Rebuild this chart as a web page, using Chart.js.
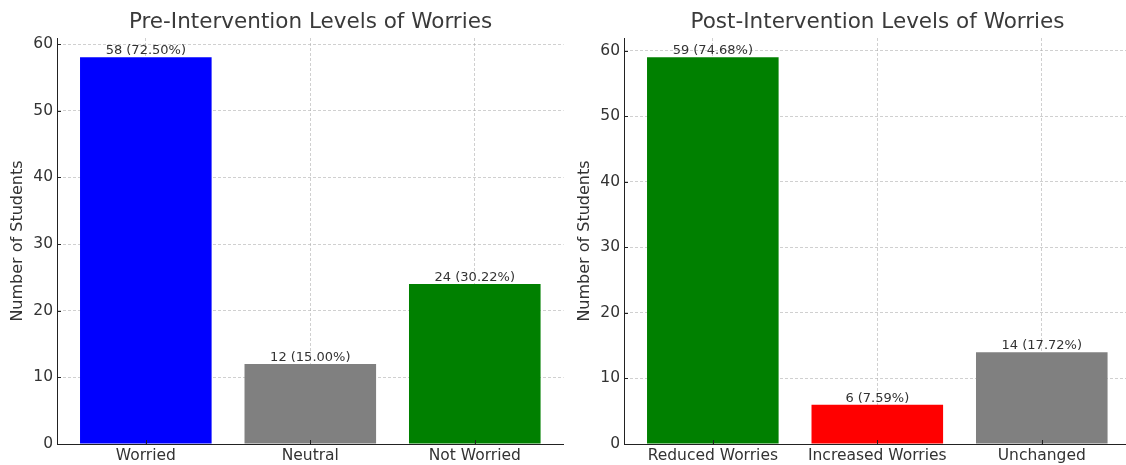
<!DOCTYPE html>
<html>
<head>
<meta charset="utf-8">
<script src="https://cdn.jsdelivr.net/npm/chart.js@4.4.1/dist/chart.umd.min.js"></script>
<style>
  html, body { margin: 0; padding: 0; background: #ffffff; overflow: hidden; width: 1126px; height: 465px; }
  .panel { position: absolute; top: 0; }
  #preWrap { left: 0; }
  #postWrap { left: 567px; }
</style>
</head>
<body>
<div class="panel" id="preWrap"><canvas id="preChart" width="621" height="465"></canvas></div>
<div class="panel" id="postWrap"><canvas id="postChart" width="621" height="465"></canvas></div>
<script>
// Survey counts before and after the intervention
const preCategories = ['Worried', 'Neutral', 'Not Worried'];
const preCounts = [58, 12, 24];
const prePercents = ['72.50', '15.00', '30.22'];
const preColors = ['#0000ff', '#808080', '#008000'];

const postCategories = ['Reduced Worries', 'Increased Worries', 'Unchanged'];
const postCounts = [59, 6, 14];
const postPercents = ['74.68', '7.59', '17.72'];
const postColors = ['#008000', '#ff0000', '#808080'];

const yTickValues = [0, 10, 20, 30, 40, 50, 60];

const FONT = "'DejaVu Sans', 'Liberation Sans', sans-serif";
const TEXT = '#333333';
const GRID = 'rgba(170,170,170,0.55)';

// "count (pct%)" written just above each bar
const barLabels = {
  id: 'barLabels',
  afterDatasetsDraw(chart, args, opts) {
    const ctx = chart.ctx;
    const meta = chart.getDatasetMeta(0);
    ctx.save();
    ctx.font = '13px ' + FONT;
    ctx.fillStyle = TEXT;
    ctx.textAlign = 'center';
    ctx.textBaseline = 'bottom';
    meta.data.forEach((bar, i) => {
      const v = chart.data.datasets[0].data[i].y;
      ctx.fillText(v + ' (' + opts.percents[i] + '%)', bar.x, bar.y);
    });
    ctx.restore();
  }
};

// short tick marks pointing into the plot
const innerTicks = {
  id: 'innerTicks',
  afterDraw(chart) {
    const ctx = chart.ctx;
    const xs = chart.scales.x, ys = chart.scales.y;
    const area = chart.chartArea;
    ctx.save();
    ctx.strokeStyle = '#222222';
    ctx.lineWidth = 1;
    ctx.beginPath();
    ys.ticks.forEach(t => {
      const py = Math.round(ys.getPixelForValue(t.value)) + 0.5;
      ctx.moveTo(area.left, py);
      ctx.lineTo(area.left + 4, py);
    });
    xs.ticks.forEach(t => {
      const px = Math.round(xs.getPixelForValue(t.value)) + 0.5;
      ctx.moveTo(px, area.bottom);
      ctx.lineTo(px, area.bottom - 4);
    });
    ctx.stroke();
    ctx.restore();
  }
};

function makeChart(canvasId, title, categories, counts, percents, colors) {
  const yMax = Math.max(...counts) * 1.05;
  const nCat = categories.length;
  const pad = 0.4 + 0.05 * (nCat - 1 + 0.8);
  return new Chart(document.getElementById(canvasId), {
    type: 'bar',
    data: {
      datasets: [{
        data: categories.map((c, i) => ({ x: i, y: counts[i] })),
        backgroundColor: colors,
        borderWidth: 0,
        categoryPercentage: 1.0,
        barPercentage: 0.8
      }]
    },
    options: {
      responsive: false,
      animation: false,
      devicePixelRatio: 1,
      layout: { padding: 0 },
      plugins: {
        legend: { display: false },
        tooltip: { enabled: false },
        title: {
          display: true,
          text: title,
          color: '#3a3a3a',
          font: { family: FONT, size: 21.5, weight: 'normal' },
          padding: { top: 10, bottom: 2.2 }
        },
        barLabels: { percents: percents }
      },
      scales: {
        x: {
          type: 'linear',
          offset: false,
          min: -pad,
          max: nCat - 1 + pad,
          z: 1,
          afterBuildTicks: s => { s.ticks = categories.map((c, i) => ({ value: i })); },
          afterFit: s => { s.height = 21; },
          ticks: {
            color: TEXT,
            font: { family: FONT, size: 15.5 },
            padding: 3,
            maxRotation: 0,
            autoSkip: false,
            callback: v => categories[v]
          },
          grid: { color: GRID, lineWidth: 1, drawTicks: false, offset: false },
          border: { display: true, color: '#222222', width: 1, dash: [3, 2] }
        },
        y: {
          min: 0,
          max: yMax,
          z: 1,
          afterBuildTicks: s => { s.ticks = yTickValues.filter(v => v <= yMax).map(v => ({ value: v })); },
          afterFit: s => { s.width = 57; },
          ticks: {
            color: TEXT,
            font: { family: FONT, size: 15.5 },
            padding: 4
          },
          grid: { color: GRID, lineWidth: 1, drawTicks: false },
          border: { display: true, color: '#222222', width: 1, dash: [3, 2] },
          title: {
            display: true,
            text: 'Number of Students',
            color: TEXT,
            font: { family: FONT, size: 16 },
            padding: { top: 8, bottom: 0 }
          }
        },
        // empty right-hand margin so the plot sits left of the panel centre
        margin: {
          type: 'linear',
          position: 'right',
          display: true,
          afterFit: s => { s.width = 57.4; },
          grid: { display: false, drawTicks: false },
          ticks: { display: false },
          border: { display: false }
        }
      }
    },
    plugins: [barLabels, innerTicks]
  });
}

makeChart('preChart', 'Pre-Intervention Levels of Worries', preCategories, preCounts, prePercents, preColors);
makeChart('postChart', 'Post-Intervention Levels of Worries', postCategories, postCounts, postPercents, postColors);
</script>
</body>
</html>
